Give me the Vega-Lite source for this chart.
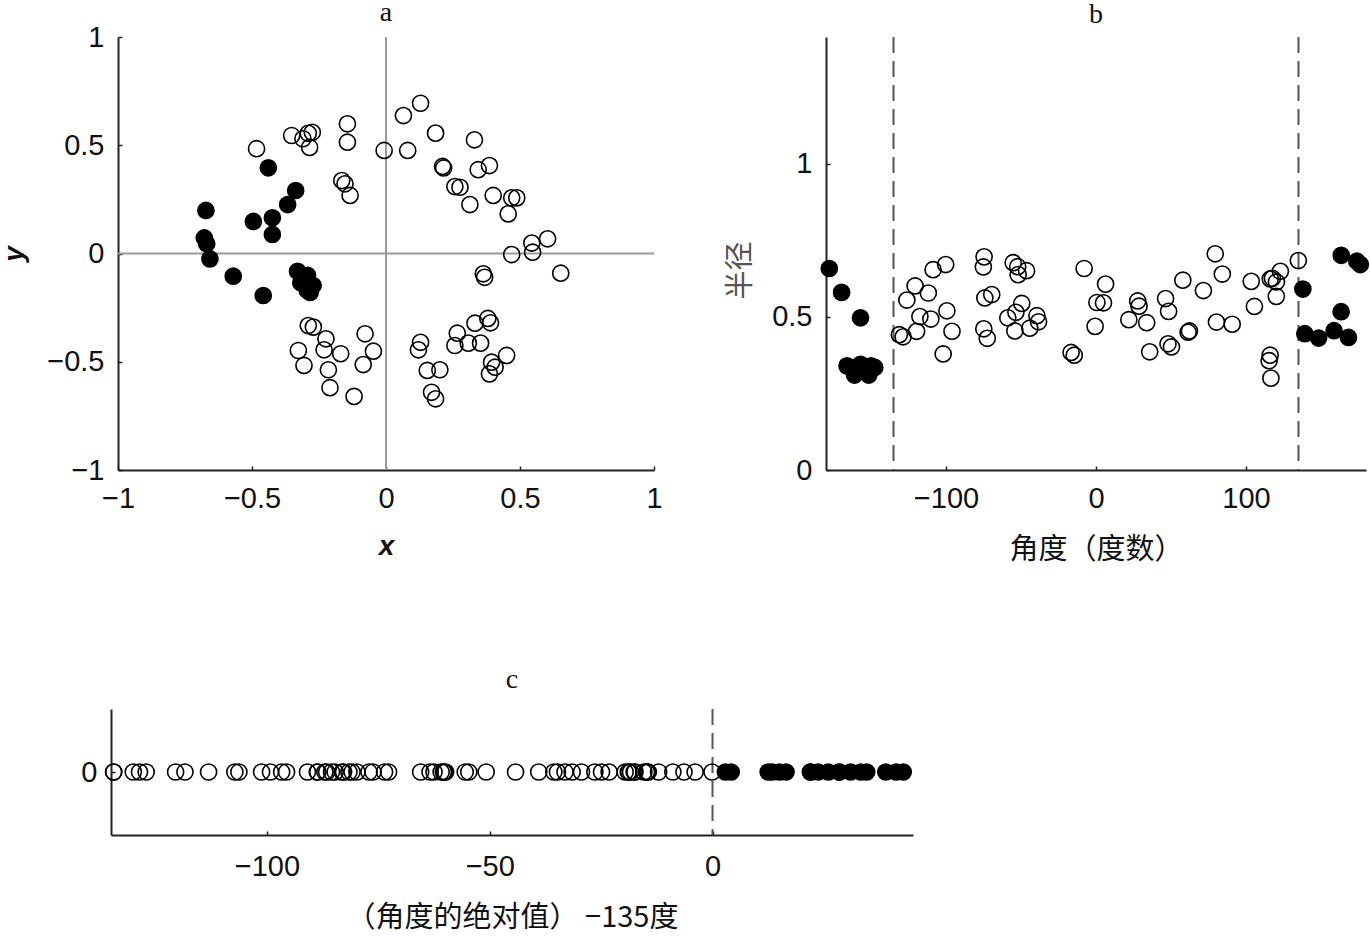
{
  "$schema": "https://vega.github.io/schema/vega-lite/v6.json",
  "background": "white",
  "padding": {"left": 0, "top": -2, "right": 0, "bottom": 0},
  "config": {
    "view": {"stroke": null},
    "axis": {
      "grid": false,
      "domainColor": "#222222",
      "domainWidth": 2,
      "tickColor": "#222222",
      "tickWidth": 1.5,
      "tickSize": -4,
      "labelFont": "Liberation Sans",
      "labelFontSize": 29,
      "labelColor": "#111111",
      "labelPadding": 18,
      "labelFlush": false,
      "labelOverlap": false,
      "format": "~r",
      "titleColor": "#111111",
      "titleFontWeight": "normal"
    },
    "title": {
      "font": "Liberation Serif",
      "fontSize": 28,
      "fontWeight": "normal",
      "color": "#111111",
      "anchor": "middle",
      "baseline": "alphabetic"
    }
  },
  "datasets": {
    "pts": [
      {"x": -0.672, "y": 0.199, "angle": 163.5, "radius": 0.701, "shifted": 28.5, "zone": "out"},
      {"x": -0.678, "y": 0.072, "angle": 173.9, "radius": 0.682, "shifted": 38.9, "zone": "out"},
      {"x": -0.669, "y": 0.045, "angle": 176.2, "radius": 0.671, "shifted": 41.2, "zone": "out"},
      {"x": -0.657, "y": -0.025, "angle": -177.8, "radius": 0.658, "shifted": 42.8, "zone": "out"},
      {"x": -0.570, "y": -0.105, "angle": -169.6, "radius": 0.580, "shifted": 34.6, "zone": "out"},
      {"x": -0.458, "y": -0.194, "angle": -157.0, "radius": 0.497, "shifted": 22.0, "zone": "out"},
      {"x": -0.495, "y": 0.148, "angle": 163.4, "radius": 0.517, "shifted": 28.4, "zone": "out"},
      {"x": -0.439, "y": 0.396, "angle": 137.9, "radius": 0.591, "shifted": 2.9, "zone": "out"},
      {"x": -0.337, "y": 0.291, "angle": 139.2, "radius": 0.445, "shifted": 4.2, "zone": "out"},
      {"x": -0.367, "y": 0.226, "angle": 148.4, "radius": 0.431, "shifted": 13.4, "zone": "out"},
      {"x": -0.424, "y": 0.165, "angle": 158.7, "radius": 0.455, "shifted": 23.7, "zone": "out"},
      {"x": -0.424, "y": 0.088, "angle": 168.3, "radius": 0.433, "shifted": 33.3, "zone": "out"},
      {"x": -0.330, "y": -0.082, "angle": -166.0, "radius": 0.340, "shifted": 31.0, "zone": "out"},
      {"x": -0.318, "y": -0.135, "angle": -157.0, "radius": 0.345, "shifted": 22.0, "zone": "out"},
      {"x": -0.294, "y": -0.170, "angle": -150.0, "radius": 0.340, "shifted": 15.0, "zone": "out"},
      {"x": -0.283, "y": -0.180, "angle": -147.5, "radius": 0.335, "shifted": 12.5, "zone": "out"},
      {"x": -0.293, "y": -0.101, "angle": -161.0, "radius": 0.310, "shifted": 26.0, "zone": "out"},
      {"x": -0.272, "y": -0.148, "angle": -151.5, "radius": 0.310, "shifted": 16.5, "zone": "out"},
      {"x": -0.483, "y": 0.484, "angle": 134.9, "radius": 0.684, "shifted": -0.1, "zone": "in"},
      {"x": -0.352, "y": 0.545, "angle": 122.9, "radius": 0.649, "shifted": -12.1, "zone": "in"},
      {"x": -0.310, "y": 0.530, "angle": 120.3, "radius": 0.614, "shifted": -14.7, "zone": "in"},
      {"x": -0.290, "y": 0.555, "angle": 117.6, "radius": 0.626, "shifted": -17.4, "zone": "in"},
      {"x": -0.275, "y": 0.560, "angle": 116.2, "radius": 0.624, "shifted": -18.8, "zone": "in"},
      {"x": -0.285, "y": 0.490, "angle": 120.2, "radius": 0.567, "shifted": -14.8, "zone": "in"},
      {"x": -0.144, "y": 0.599, "angle": 103.5, "radius": 0.616, "shifted": -31.5, "zone": "in"},
      {"x": -0.144, "y": 0.514, "angle": 105.6, "radius": 0.534, "shifted": -29.4, "zone": "in"},
      {"x": -0.165, "y": 0.337, "angle": 116.1, "radius": 0.375, "shifted": -18.9, "zone": "in"},
      {"x": -0.153, "y": 0.322, "angle": 115.4, "radius": 0.357, "shifted": -19.6, "zone": "in"},
      {"x": -0.134, "y": 0.268, "angle": 116.6, "radius": 0.300, "shifted": -18.4, "zone": "in"},
      {"x": -0.007, "y": 0.476, "angle": 90.8, "radius": 0.476, "shifted": -44.2, "zone": "in"},
      {"x": 0.065, "y": 0.637, "angle": 84.2, "radius": 0.640, "shifted": -50.8, "zone": "in"},
      {"x": 0.129, "y": 0.694, "angle": 79.5, "radius": 0.706, "shifted": -55.5, "zone": "in"},
      {"x": 0.081, "y": 0.476, "angle": 80.3, "radius": 0.483, "shifted": -54.7, "zone": "in"},
      {"x": 0.185, "y": 0.556, "angle": 71.6, "radius": 0.586, "shifted": -63.4, "zone": "in"},
      {"x": 0.330, "y": 0.525, "angle": 57.9, "radius": 0.620, "shifted": -77.1, "zone": "in"},
      {"x": 0.211, "y": 0.402, "angle": 62.3, "radius": 0.454, "shifted": -72.7, "zone": "in"},
      {"x": 0.215, "y": 0.395, "angle": 61.4, "radius": 0.450, "shifted": -73.6, "zone": "in"},
      {"x": 0.344, "y": 0.387, "angle": 48.4, "radius": 0.518, "shifted": -86.6, "zone": "in"},
      {"x": 0.386, "y": 0.406, "angle": 46.4, "radius": 0.560, "shifted": -88.6, "zone": "in"},
      {"x": 0.257, "y": 0.309, "angle": 50.3, "radius": 0.402, "shifted": -84.7, "zone": "in"},
      {"x": 0.276, "y": 0.306, "angle": 48.0, "radius": 0.412, "shifted": -87.0, "zone": "in"},
      {"x": 0.313, "y": 0.226, "angle": 35.8, "radius": 0.386, "shifted": -99.2, "zone": "in"},
      {"x": 0.400, "y": 0.268, "angle": 33.8, "radius": 0.481, "shifted": -101.2, "zone": "in"},
      {"x": 0.469, "y": 0.257, "angle": 28.7, "radius": 0.535, "shifted": -106.3, "zone": "in"},
      {"x": 0.488, "y": 0.257, "angle": 27.8, "radius": 0.552, "shifted": -107.2, "zone": "in"},
      {"x": 0.456, "y": 0.183, "angle": 21.9, "radius": 0.491, "shifted": -113.1, "zone": "in"},
      {"x": 0.469, "y": -0.005, "angle": -0.6, "radius": 0.469, "shifted": -134.4, "zone": "in"},
      {"x": 0.544, "y": 0.048, "angle": 5.0, "radius": 0.546, "shifted": -130.0, "zone": "in"},
      {"x": 0.547, "y": 0.006, "angle": 0.6, "radius": 0.547, "shifted": -134.4, "zone": "in"},
      {"x": 0.603, "y": 0.068, "angle": 6.4, "radius": 0.607, "shifted": -128.6, "zone": "in"},
      {"x": 0.652, "y": -0.091, "angle": -7.9, "radius": 0.658, "shifted": -127.1, "zone": "in"},
      {"x": 0.363, "y": -0.094, "angle": -14.5, "radius": 0.375, "shifted": -120.5, "zone": "in"},
      {"x": 0.368, "y": -0.110, "angle": -16.6, "radius": 0.384, "shifted": -118.4, "zone": "in"},
      {"x": 0.332, "y": -0.322, "angle": -44.1, "radius": 0.463, "shifted": -90.9, "zone": "in"},
      {"x": 0.380, "y": -0.300, "angle": -38.3, "radius": 0.484, "shifted": -96.7, "zone": "in"},
      {"x": 0.390, "y": -0.320, "angle": -39.4, "radius": 0.504, "shifted": -95.6, "zone": "in"},
      {"x": 0.266, "y": -0.368, "angle": -54.1, "radius": 0.454, "shifted": -80.9, "zone": "in"},
      {"x": 0.257, "y": -0.425, "angle": -58.8, "radius": 0.497, "shifted": -76.2, "zone": "in"},
      {"x": 0.307, "y": -0.414, "angle": -53.4, "radius": 0.515, "shifted": -81.6, "zone": "in"},
      {"x": 0.353, "y": -0.414, "angle": -49.5, "radius": 0.544, "shifted": -85.5, "zone": "in"},
      {"x": 0.129, "y": -0.410, "angle": -72.5, "radius": 0.430, "shifted": -62.5, "zone": "in"},
      {"x": 0.121, "y": -0.445, "angle": -74.8, "radius": 0.461, "shifted": -60.2, "zone": "in"},
      {"x": 0.154, "y": -0.540, "angle": -74.1, "radius": 0.562, "shifted": -60.9, "zone": "in"},
      {"x": 0.201, "y": -0.537, "angle": -69.5, "radius": 0.573, "shifted": -65.5, "zone": "in"},
      {"x": 0.170, "y": -0.641, "angle": -75.1, "radius": 0.663, "shifted": -59.9, "zone": "in"},
      {"x": 0.185, "y": -0.671, "angle": -74.6, "radius": 0.696, "shifted": -60.4, "zone": "in"},
      {"x": 0.394, "y": -0.502, "angle": -51.9, "radius": 0.638, "shifted": -83.1, "zone": "in"},
      {"x": 0.407, "y": -0.525, "angle": -52.2, "radius": 0.664, "shifted": -82.8, "zone": "in"},
      {"x": 0.450, "y": -0.471, "angle": -46.3, "radius": 0.651, "shifted": -88.7, "zone": "in"},
      {"x": 0.386, "y": -0.556, "angle": -55.2, "radius": 0.677, "shifted": -79.8, "zone": "in"},
      {"x": -0.290, "y": -0.333, "angle": -131.1, "radius": 0.442, "shifted": -3.9, "zone": "in"},
      {"x": -0.271, "y": -0.340, "angle": -128.6, "radius": 0.435, "shifted": -6.4, "zone": "in"},
      {"x": -0.224, "y": -0.394, "angle": -119.6, "radius": 0.453, "shifted": -15.4, "zone": "in"},
      {"x": -0.327, "y": -0.448, "angle": -126.1, "radius": 0.555, "shifted": -8.9, "zone": "in"},
      {"x": -0.306, "y": -0.517, "angle": -120.6, "radius": 0.601, "shifted": -14.4, "zone": "in"},
      {"x": -0.231, "y": -0.445, "angle": -117.4, "radius": 0.501, "shifted": -17.6, "zone": "in"},
      {"x": -0.169, "y": -0.463, "angle": -110.1, "radius": 0.493, "shifted": -24.9, "zone": "in"},
      {"x": -0.215, "y": -0.537, "angle": -111.8, "radius": 0.578, "shifted": -23.2, "zone": "in"},
      {"x": -0.209, "y": -0.620, "angle": -108.6, "radius": 0.654, "shifted": -26.4, "zone": "in"},
      {"x": -0.119, "y": -0.660, "angle": -100.2, "radius": 0.671, "shifted": -34.8, "zone": "in"},
      {"x": -0.078, "y": -0.371, "angle": -101.9, "radius": 0.379, "shifted": -33.1, "zone": "in"},
      {"x": -0.047, "y": -0.451, "angle": -96.0, "radius": 0.453, "shifted": -39.0, "zone": "in"},
      {"x": -0.085, "y": -0.513, "angle": -99.4, "radius": 0.520, "shifted": -35.6, "zone": "in"}
    ],
    "origin": [{"value": 0}],
    "sectorEdges": [{"angle": -135}, {"angle": 135}],
    "stripEdge": [{"shifted": 0}]
  },
  "columns": 1,
  "align": "none",
  "spacing": 102,
  "concat": [
    {
      "spacing": 6,
      "bounds": "flush",
      "hconcat": [
        {
          "width": 1,
          "height": 1,
          "data": {"values": []},
          "mark": "point",
          "encoding": {}
        },
        {
          "spacing": 172,
          "bounds": "flush",
          "hconcat": [
            {
              "width": 536,
              "height": 433,
              "title": {"text": "a", "offset": -3.5},
              "layer": [
                {
                  "data": {"name": "origin"},
                  "mark": {"type": "rule", "color": "#9a9a9a", "strokeWidth": 2},
                  "encoding": {"x": {"field": "value", "type": "quantitative", "scale": {"domain": [-1, 1], "nice": false}}}
                },
                {
                  "data": {"name": "origin"},
                  "mark": {"type": "rule", "color": "#9a9a9a", "strokeWidth": 2},
                  "encoding": {"y": {"field": "value", "type": "quantitative", "scale": {"domain": [-1, 1], "nice": false}}}
                },
                {
                  "data": {"name": "pts"},
                  "mark": {"type": "point", "shape": "circle", "size": 260, "filled": true, "fill": "black", "stroke": "black", "strokeWidth": 1.6, "opacity": 1},
                  "encoding": {
                    "x": {"field": "x", "type": "quantitative", "scale": {"domain": [-1, 1], "nice": false},
                      "axis": {"title": "x", "values": [-1, -0.5, 0, 0.5, 1], "titleFont": "Liberation Sans", "titleFontSize": 28, "titleFontStyle": "italic", "titleFontWeight": "bold", "titlePadding": 19}},
                    "y": {"field": "y", "type": "quantitative", "scale": {"domain": [-1, 1], "nice": false},
                      "axis": {"title": "y", "values": [-1, -0.5, 0, 0.5, 1], "titleFont": "Liberation Sans", "titleFontSize": 28, "titleFontStyle": "italic", "titleFontWeight": "bold", "titlePadding": 18}},
                    "fillOpacity": {"field": "zone", "type": "nominal", "scale": {"domain": ["in", "out"], "range": [0, 1]}, "legend": null}
                  }
                }
              ]
            },
            {
              "width": 540,
              "height": 433,
              "title": {"text": "b", "offset": 7},
              "layer": [
                {
                  "data": {"name": "sectorEdges"},
                  "mark": {"type": "rule", "color": "#555555", "strokeWidth": 2, "strokeDash": [16, 8]},
                  "encoding": {"x": {"field": "angle", "type": "quantitative", "scale": {"domain": [-180, 180], "nice": false}}}
                },
                {
                  "data": {"name": "pts"},
                  "mark": {"type": "point", "shape": "circle", "size": 260, "filled": true, "fill": "black", "stroke": "black", "strokeWidth": 1.6, "opacity": 1},
                  "encoding": {
                    "x": {"field": "angle", "type": "quantitative", "scale": {"domain": [-180, 180], "nice": false},
                      "axis": {"title": "角度（度数）", "values": [-100, 0, 100], "titleFont": "Noto Sans CJK SC", "titleFontSize": 29, "titlePadding": 22}},
                    "y": {"field": "radius", "type": "quantitative", "scale": {"domain": [0, 1.414], "nice": false, "zero": true},
                      "axis": {"title": "半径", "values": [0, 0.5, 1], "titleFont": "Noto Sans CJK SC", "titleFontSize": 29, "titleColor": "#555555", "titlePadding": 16, "titleY": 233}},
                    "fillOpacity": {"field": "zone", "type": "nominal", "scale": {"domain": ["in", "out"], "range": [0, 1]}, "legend": null}
                  }
                }
              ]
            }
          ]
        }
      ]
    },
    {
      "width": 802,
      "height": 126,
      "title": {"text": "c", "offset": 14},
      "layer": [
        {
          "data": {"name": "stripEdge"},
          "mark": {"type": "rule", "color": "#555555", "strokeWidth": 2, "strokeDash": [16, 8]},
          "encoding": {"x": {"field": "shifted", "type": "quantitative", "scale": {"domain": [-135, 45], "nice": false}}}
        },
        {
          "data": {"name": "pts"},
          "mark": {"type": "point", "shape": "circle", "size": 260, "filled": true, "fill": "black", "stroke": "black", "strokeWidth": 1.6, "opacity": 1},
          "encoding": {
            "x": {"field": "shifted", "type": "quantitative", "scale": {"domain": [-135, 45], "nice": false},
              "axis": {"title": "（角度的绝对值） −135度", "values": [-100, -50, 0], "titleFont": "Noto Sans CJK SC", "titleFontSize": 29, "titlePadding": 22, "labelPadding": 21}},
            "y": {"datum": 0, "type": "quantitative", "scale": {"domain": [-1, 1], "nice": false},
              "axis": {"title": null, "values": [0]}},
            "fillOpacity": {"field": "zone", "type": "nominal", "scale": {"domain": ["in", "out"], "range": [0, 1]}, "legend": null}
          }
        }
      ]
    }
  ]
}
